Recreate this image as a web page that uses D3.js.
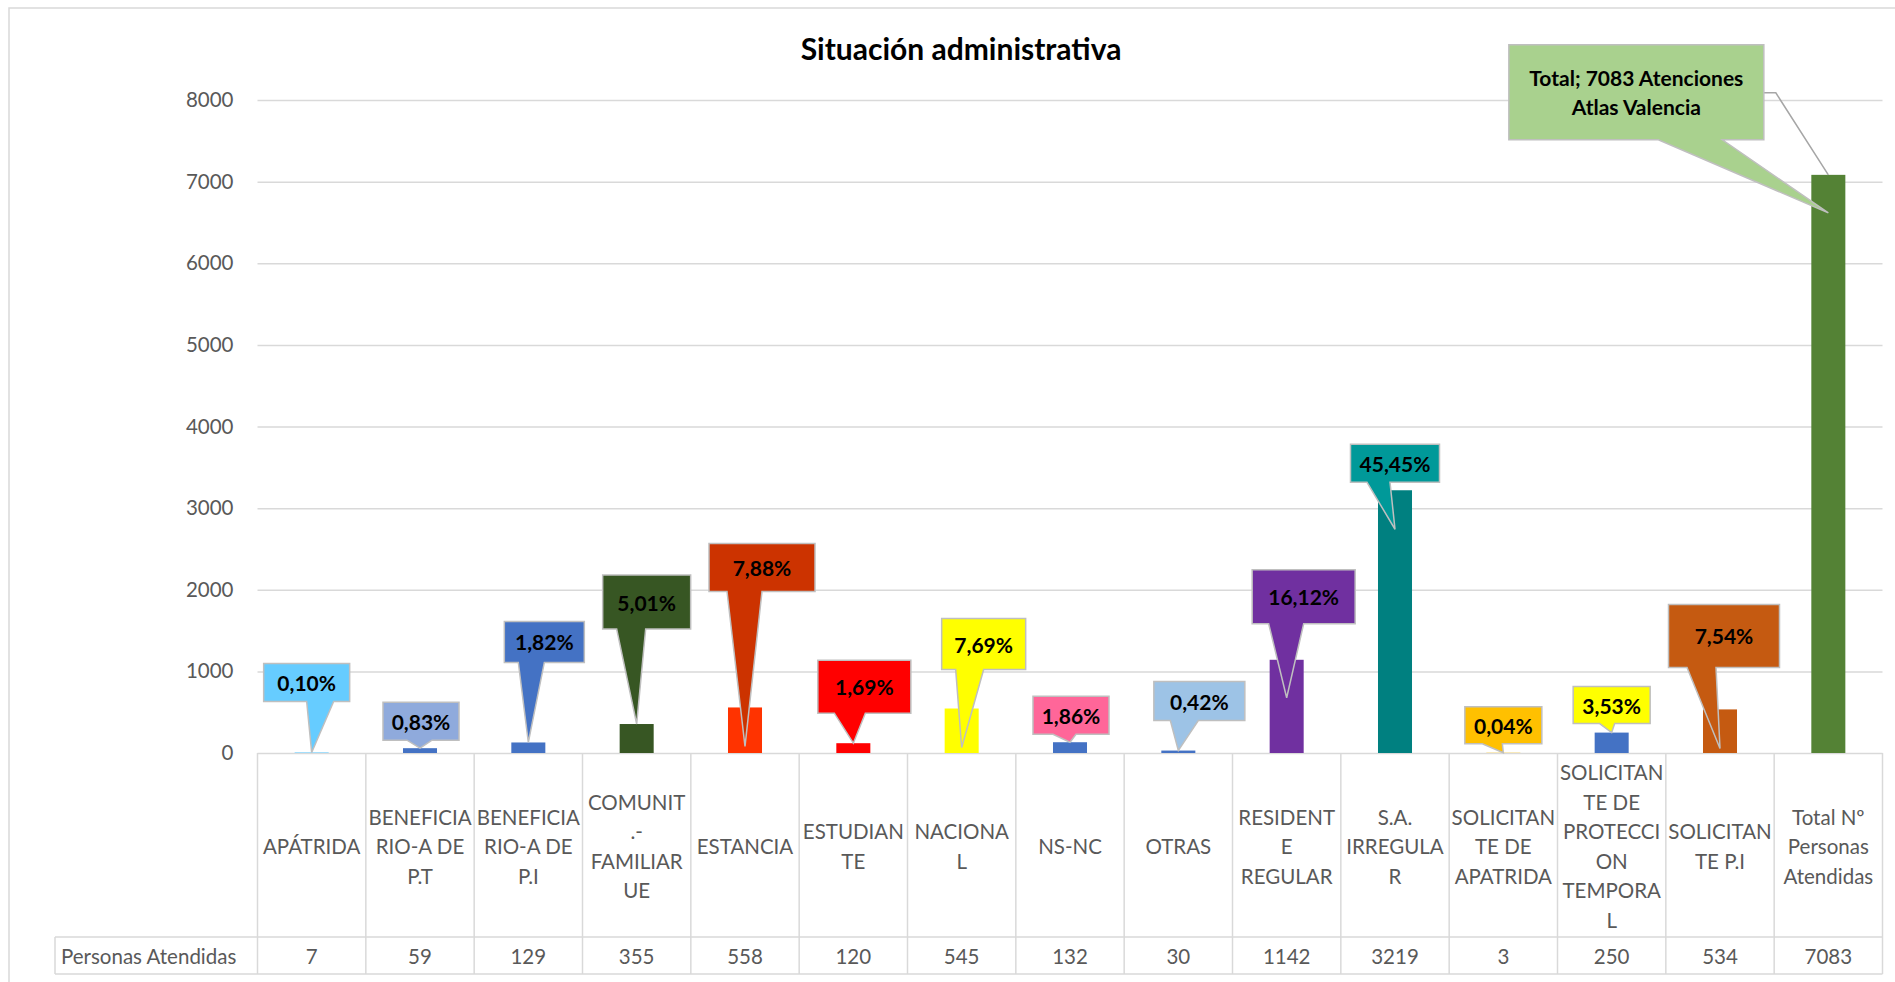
<!DOCTYPE html>
<html>
<head>
<meta charset="utf-8">
<script src="https://cdn.jsdelivr.net/npm/d3@7"></script>
<style>
body { margin: 0; background: #fff; }
svg text { font-family: Lato, "Open Sans", sans-serif; }
</style>
</head>
<body>
<svg width="1895" height="982"></svg>
<script>
// Categories, as named in the sheet
var categories = ['APÁTRIDA', 'BENEFICIARIO-A DE P.T', 'BENEFICIARIO-A DE P.I', 'COMUNIT.-FAMILIAR UE',
    'ESTANCIA', 'ESTUDIANTE', 'NACIONAL', 'NS-NC', 'OTRAS', 'RESIDENTE REGULAR', 'S.A. IRREGULAR',
    'SOLICITANTE DE APATRIDA', 'SOLICITANTE DE PROTECCION TEMPORAL', 'SOLICITANTE P.I',
    'Total Nº Personas Atendidas'];

// Tick labels, wrapped the way the data table shows them
var categoryLines = [
    ['APÁTRIDA'], ['BENEFICIA', 'RIO-A DE', 'P.T'], ['BENEFICIA', 'RIO-A DE', 'P.I'],
    ['COMUNIT', '.-', 'FAMILIAR', 'UE'], ['ESTANCIA'], ['ESTUDIAN', 'TE'], ['NACIONA', 'L'],
    ['NS-NC'], ['OTRAS'], ['RESIDENT', 'E', 'REGULAR'], ['S.A.', 'IRREGULA', 'R'],
    ['SOLICITAN', 'TE DE', 'APATRIDA'], ['SOLICITAN', 'TE DE', 'PROTECCI', 'ON', 'TEMPORA', 'L'],
    ['SOLICITAN', 'TE P.I'], ['Total Nº', 'Personas', 'Atendidas']
];

var seriesName = 'Personas Atendidas';
var personas = [7, 59, 129, 355, 558, 120, 545, 132, 30, 1142, 3219, 3, 250, 534, 7083];
var yTicks = [0, 1000, 2000, 3000, 4000, 5000, 6000, 7000, 8000];

var barColors = ['#66CCFF', '#4472C4', '#4472C4', '#375623', '#FF3300', '#FF0000', '#FFFF00', '#4472C4',
    '#4472C4', '#7030A0', '#008080', '#FFC000', '#4472C4', '#C55A11', '#548235'];
var boxColors = ['#66CCFF', '#8FAADC', '#4472C4', '#375623', '#CC3300', '#FF0000', '#FFFF00', '#FF6699',
    '#9DC3E6', '#7030A0', '#009999', '#FFC000', '#FFFF00', '#C55A11', '#A9D18E'];

// callout layout: [box dx, box w, box h, gap above bar top, wedge base left, wedge base right, tip dy]
var calloutLayout = [
    [-5, 86, 38, 51, 0, 27, 0], [1, 76, 38, 8, -14, 11, 0], [16, 80, 41, 80, -26, 0, 0],
    [10, 88, 54, 95, -30, -1, 0], [17, 106, 48, 116, -35, 0, 39], [11, 93, 53, 30, -30, 1, 0],
    [22, 84, 51, 39, -28, 0, 39], [1, 76, 38, 8, -18, 5, 0], [21, 91, 39, 30, -29, -1, 0],
    [17, 103, 54, 36, -35, 0, 38], [0, 89, 38, 8, -28, -5, 39], [0, 77, 37, 9, -21, -1, 0],
    [0, 77, 37, 9, -12, 3, 0], [4, 111, 63, 42, -37, -8, 39], [-192, 255, 95, 35, 22, 86, 38]
];

var svg = d3.select('svg');
var total = personas[personas.length - 1];

var plot = {l: 257.5, r: 1882.5, t: 100, b: 753};
var tableRowB = 937, tableB = 974, headL = 55;

var x = d3.scaleBand()
    .domain(categories)
    .range([plot.l, plot.r])
    .padding(0);
var step = x.step();
var barW = step * 0.314;

var y = d3.scaleLinear()
    .domain([0, 8000])
    .range([plot.b, plot.t]);

// chart border
svg.append('rect')
    .attr('x', 9).attr('y', 8)
    .attr('width', 1910).attr('height', 990)
    .attr('fill', 'none')
    .attr('stroke', '#D9D9D9')
    .attr('stroke-width', 1.5);

// title
svg.append('text')
    .attr('x', 961).attr('y', 48)
    .attr('text-anchor', 'middle')
    .attr('dominant-baseline', 'central')
    .attr('font-size', 30)
    .attr('font-weight', 'bold')
    .attr('fill', '#000')
    .text('Situación administrativa');

// gridlines
svg.append('g')
    .attr('transform', 'translate(' + plot.l + ',0)')
    .call(d3.axisLeft(y).tickValues(yTicks).tickSize(-(plot.r - plot.l)).tickFormat(''))
    .call(function(g) { g.select('.domain').remove(); })
    .selectAll('line')
    .attr('stroke', '#D9D9D9')
    .attr('stroke-width', 1.5);

// y axis labels
var yAxis = svg.append('g')
    .attr('transform', 'translate(' + plot.l + ',0)')
    .call(d3.axisLeft(y).tickValues(yTicks).tickSize(0).tickPadding(24).tickFormat(d3.format('d')));
yAxis.select('.domain').remove();
yAxis.selectAll('text')
    .attr('font-size', 20.5)
    .attr('fill', '#595959')
    .style('font-family', 'Lato, "Open Sans", sans-serif');

// bars
svg.selectAll('.bar')
    .data(personas)
    .enter()
    .append('rect')
    .attr('class', 'bar')
    .attr('x', function(d, i) { return x(categories[i]) + step / 2 - barW / 2; })
    .attr('y', function(d) { return y(d); })
    .attr('width', barW)
    .attr('height', function(d) { return plot.b - y(d); })
    .attr('fill', function(d, i) { return barColors[i]; });

// data table
var tableG = svg.append('g');
var lineStyle = function(sel) {
    sel.attr('stroke', '#D9D9D9').attr('stroke-width', 1.5);
};
tableG.selectAll('.vline')
    .data(d3.range(categories.length + 1))
    .enter()
    .append('line')
    .attr('x1', function(i) { return plot.l + i * step; })
    .attr('x2', function(i) { return plot.l + i * step; })
    .attr('y1', plot.b).attr('y2', tableB)
    .call(lineStyle);
tableG.append('line').attr('x1', headL).attr('x2', plot.r).attr('y1', tableRowB).attr('y2', tableRowB).call(lineStyle);
tableG.append('line').attr('x1', headL).attr('x2', plot.r).attr('y1', tableB).attr('y2', tableB).call(lineStyle);
tableG.append('line').attr('x1', headL).attr('x2', headL).attr('y1', tableRowB).attr('y2', tableB).call(lineStyle);

var lineH = 29.5;
var catMid = (plot.b + tableRowB) / 2 + 1;
tableG.selectAll('.cat')
    .data(categoryLines)
    .enter()
    .append('text')
    .attr('class', 'cat')
    .attr('text-anchor', 'middle')
    .attr('font-size', 20.5)
    .attr('fill', '#595959')
    .each(function(lines, i) {
        var t = d3.select(this);
        var cx = x(categories[i]) + step / 2;
        lines.forEach(function(s, k) {
            t.append('tspan')
                .attr('x', cx)
                .attr('y', catMid + (k - (lines.length - 1) / 2) * lineH)
                .attr('dominant-baseline', 'central')
                .text(s);
        });
    });

var valMid = (tableRowB + tableB) / 2;
tableG.append('text')
    .attr('x', 61).attr('y', valMid)
    .attr('dominant-baseline', 'central')
    .attr('font-size', 20.5)
    .attr('fill', '#595959')
    .text(seriesName);
tableG.selectAll('.val')
    .data(personas)
    .enter()
    .append('text')
    .attr('class', 'val')
    .attr('x', function(d, i) { return x(categories[i]) + step / 2; })
    .attr('y', valMid)
    .attr('text-anchor', 'middle')
    .attr('dominant-baseline', 'central')
    .attr('font-size', 20.5)
    .attr('fill', '#595959')
    .text(function(d) { return d; });

// callouts
function pct(v) {
    return (v / total * 100).toFixed(2).replace('.', ',') + '%';
}

var calloutG = svg.append('g');
personas.forEach(function(v, i) {
    var L = calloutLayout[i];
    var cx = x(categories[i]) + step / 2;
    var top = y(v);
    var bc = cx + L[0];
    var left = bc - L[1] / 2, right = bc + L[1] / 2;
    var bottom = top - L[3], boxTop = bottom - L[2];
    var tipX = cx, tipY = top + L[6];

    if (i === personas.length - 1) {
        // leader line from the box side to the top of the bar
        calloutG.append('polyline')
            .attr('points', [[right, boxTop + 48], [right + 12, boxTop + 48], [cx, top]].join(' '))
            .attr('fill', 'none')
            .attr('stroke', '#A6A6A6')
            .attr('stroke-width', 1.5);
    }

    var pts = [[left, boxTop], [right, boxTop], [right, bottom], [bc + L[5], bottom],
        [tipX, tipY], [bc + L[4], bottom], [left, bottom]];
    calloutG.append('path')
        .attr('d', 'M' + pts.join('L') + 'Z')
        .attr('fill', boxColors[i])
        .attr('stroke', '#BFBFBF')
        .attr('stroke-width', 1.5)
        .attr('stroke-linejoin', 'miter');

    var lines = i === personas.length - 1
        ? ['Total; ' + total + ' Atenciones', 'Atlas Valencia']
        : [pct(v)];
    var t = calloutG.append('text')
        .attr('text-anchor', 'middle')
        .attr('font-size', 21)
        .attr('font-weight', 'bold')
        .attr('fill', '#000');
    lines.forEach(function(s, k) {
        t.append('tspan')
            .attr('x', bc)
            .attr('y', (boxTop + bottom) / 2 + (k - (lines.length - 1) / 2) * 29)
            .attr('dominant-baseline', 'central')
            .text(s);
    });
});
</script>
</body>
</html>
